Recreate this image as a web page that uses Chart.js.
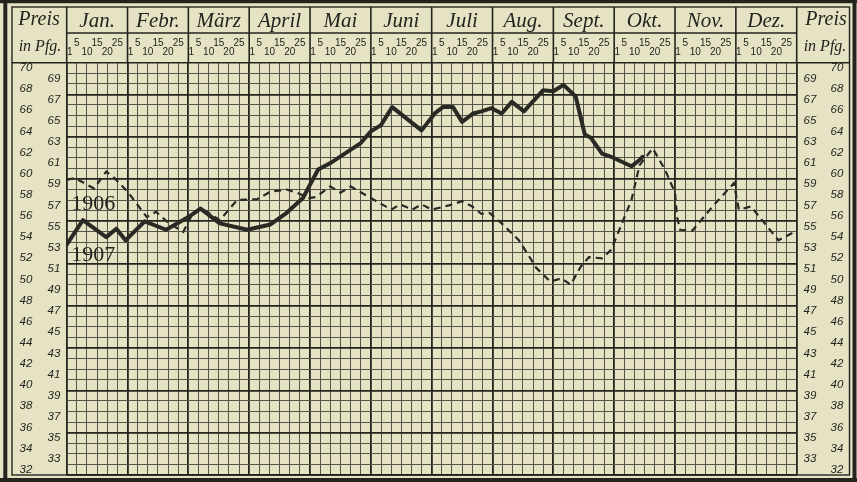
<!DOCTYPE html>
<html>
<head>
<meta charset="utf-8">
<script src="https://cdn.jsdelivr.net/npm/chart.js@4.4.1/dist/chart.umd.min.js"></script>
<style>
  html, body { margin: 0; padding: 0; background: #e6e3c5; }
  #wrap { width: 857px; height: 482px; }
</style>
</head>
<body>
<div id="wrap"><canvas id="chart" width="857" height="482"></canvas></div>
<script>
const months = ["Jan.", "Febr.", "März", "April", "Mai", "Juni", "Juli", "Aug.", "Sept.", "Okt.", "Nov.", "Dez."];
const dayMarks = ["1", "5", "10", "15", "20", "25"];
const evenPrices = [70, 68, 66, 64, 62, 60, 58, 56, 54, 52, 50, 48, 46, 44, 42, 40, 38, 36, 34, 32];
const oddPrices = [69, 67, 65, 63, 61, 59, 57, 55, 53, 51, 49, 47, 45, 43, 41, 39, 37, 35, 33];

// x = position in the 72 day-columns (6 per month), y = price in Pfennig
const pos1906 = [0, 0.8, 2.7, 3.9, 4.7, 6, 7.9, 8.8, 10.1, 11.5, 12.3, 13.2, 15.1, 16.8, 18.8,
  20.1, 21.7, 22.7, 23.9, 24.6, 26, 27, 28, 30, 32, 32.9, 34.1, 35, 36, 37.7,
  39, 40, 40.9, 41.7, 42.9, 44.6, 45.6, 46.3, 47.7, 48.8, 49.7, 50.7, 51.5, 52.8, 53.7,
  55.7, 56.5, 57.8, 59, 60, 60.2, 60.5, 61.7, 63.7, 65.8, 66.3, 67.5, 70.2, 71.8];
const price1906 = [59.4, 59.6, 58.6, 60.2, 59.6, 58.3, 55.9, 56.4, 55.3, 54.5, 56.0, 56.8, 55.6, 57.5, 57.6,
  58.3, 58.5, 58.2, 57.7, 57.8, 58.8, 58.2, 58.8, 57.7, 56.6, 57.1, 56.6, 57.1, 56.6, 57.0,
  57.4, 56.9, 56.2, 56.3, 55.3, 53.7, 52.2, 51.1, 49.8, 50.1, 49.5, 51.2, 52.1, 52.0, 52.8,
  57.5, 60.8, 62.4, 60.4, 58.2, 55.9, 54.7, 54.6, 56.9, 59.1, 56.6, 56.9, 53.7, 54.5];

const pos1907 = [0, 1.6, 3.9, 4.9, 5.8, 7.7, 9.8, 12, 13.2, 15.1, 17.8, 20.1, 21.7, 23.3, 24.8,
  26, 29, 30, 31, 32.1, 35, 36.3, 37.1, 38.1, 39, 40.1, 40.9, 41.9, 42.9, 43.9,
  45.1, 47, 48, 49, 50.2, 51.1, 51.7, 52.8, 53.7, 55.7, 56.5, 56.8];
const price1907 = [53.3, 55.6, 54.0, 54.8, 53.7, 55.5, 54.7, 55.9, 56.7, 55.3, 54.7, 55.2, 56.3, 57.7, 60.4,
  61.0, 62.9, 64.0, 64.6, 66.3, 64.1, 65.7, 66.3, 66.3, 64.9, 65.7, 65.9, 66.2, 65.7, 66.8,
  65.9, 67.9, 67.8, 68.4, 67.3, 63.7, 63.4, 61.9, 61.6, 60.7, 61.3, 61.6];

const ink = "#24241e";
const thinInk = "#56554a";
const paper = "#e6e3c5";

function toPoints(xs, ys) {
  return xs.map((x, i) => ({ x: x, y: ys[i] }));
}

const paperPlugin = {
  id: "paper",
  beforeDraw(chart) {
    const ctx = chart.ctx;
    ctx.save();
    ctx.fillStyle = paper;
    ctx.fillRect(0, 0, chart.width, chart.height);
    ctx.restore();
  },
  beforeDatasetsDraw(chart) {
    const ctx = chart.ctx;
    const x = chart.scales.x;
    const y = chart.scales.y;
    ctx.save();
    ctx.fillStyle = ink;
    ctx.font = "22px 'Liberation Serif'";
    ctx.textBaseline = "middle";
    ctx.textAlign = "left";
    ctx.fillText("1906", x.getPixelForValue(0.45), y.getPixelForValue(57.1));
    ctx.fillText("1907", x.getPixelForValue(0.45), y.getPixelForValue(52.3));
    ctx.restore();
  },
  afterDraw(chart) {
    const ctx = chart.ctx;
    const x = chart.scales.x;
    const y = chart.scales.y;
    const area = chart.chartArea;
    const left = 12, right = 849.5, top = 7;
    ctx.save();
    ctx.strokeStyle = ink;
    ctx.fillStyle = ink;

    // header lines
    ctx.lineWidth = 1.6;
    ctx.beginPath();
    ctx.moveTo(left, area.top); ctx.lineTo(right, area.top);
    ctx.moveTo(area.left, 33); ctx.lineTo(area.right, 33);
    for (let m = 0; m <= 12; m++) {
      const px = x.getPixelForValue(m * 6);
      ctx.moveTo(px, top); ctx.lineTo(px, area.top);
    }
    ctx.stroke();

    // inner frame
    ctx.lineWidth = 1.4;
    ctx.strokeRect(left, top, right - left, area.bottom - top);
    // outer heavy frame
    ctx.lineWidth = 4;
    ctx.beginPath();
    ctx.moveTo(5.3, 0); ctx.lineTo(5.3, 482);
    ctx.moveTo(854.5, 0); ctx.lineTo(854.5, 482);
    ctx.moveTo(0, 1.3); ctx.lineTo(857, 1.3);
    ctx.moveTo(0, 480); ctx.lineTo(857, 480);
    ctx.stroke();

    // header texts
    ctx.textAlign = "center";
    ctx.textBaseline = "middle";
    ctx.font = "italic 21px 'Liberation Serif'";
    months.forEach((name, m) => {
      ctx.fillText(name, x.getPixelForValue(m * 6 + 3), 21);
    });
    ctx.font = "italic 20px 'Liberation Serif'";
    ctx.fillText("Preis", 39, 20);
    ctx.fillText("Preis", 826, 20);
    ctx.font = "italic 16px 'Liberation Serif'";
    ctx.fillText("in Pfg.", 40, 47);
    ctx.fillText("in Pfg.", 825, 47);

    ctx.font = "10px 'Liberation Sans'";
    for (let m = 0; m < 12; m++) {
      dayMarks.forEach((label, d) => {
        let px = x.getPixelForValue(m * 6 + d);
        if (d === 0) px += 3;
        ctx.fillText(label, px, d % 2 === 1 ? 43 : 52);
      });
    }

    // price columns on both sides
    ctx.font = "italic 11.5px 'Liberation Sans'";
    evenPrices.forEach((v) => {
      const py = y.getPixelForValue(v);
      ctx.fillText(String(v), 26, py);
      ctx.fillText(String(v), 837, py);
    });
    oddPrices.forEach((v) => {
      const py = y.getPixelForValue(v);
      ctx.fillText(String(v), 54, py);
      ctx.fillText(String(v), 810, py);
    });
    ctx.restore();
  }
};

new Chart(document.getElementById("chart"), {
  type: "line",
  data: {
    datasets: [
      {
        label: "1907",
        data: toPoints(pos1907, price1907),
        borderColor: "#2a2a25",
        borderWidth: 4,
        pointRadius: 0,
        tension: 0,
        borderJoinStyle: "round",
        borderCapStyle: "round",
      },
      {
        label: "1906",
        data: toPoints(pos1906, price1906),
        borderColor: "#2a2a25",
        borderWidth: 2.2,
        borderDash: [7, 5],
        pointRadius: 0,
        tension: 0,
      },
    ],
  },
  options: {
    responsive: false,
    animation: false,
    devicePixelRatio: 1,
    layout: {
      padding: { left: 66.7, right: 60.3, top: 62.7, bottom: 7 },
    },
    plugins: {
      legend: { display: false },
      tooltip: { enabled: false },
    },
    scales: {
      x: {
        type: "linear",
        min: 0,
        max: 72,
        afterBuildTicks: (scale) => {
          scale.ticks = Array.from({ length: 73 }, (_, i) => ({ value: i }));
        },
        ticks: { display: false },
        border: { display: false },
        grid: {
          drawTicks: false,
          color: (c) => (c.tick && c.tick.value % 6 === 0 ? ink : thinInk),
          lineWidth: (c) => (c.tick && c.tick.value % 6 === 0 ? 1.8 : 1),
        },
      },
      y: {
        type: "linear",
        min: 31.5,
        max: 70.5,
        afterBuildTicks: (scale) => {
          scale.ticks = Array.from({ length: 40 }, (_, i) => ({ value: 31.5 + i }));
        },
        ticks: { display: false },
        border: { display: false },
        grid: {
          drawTicks: false,
          color: (c) => (c.tick && (c.tick.value - 31.5) % 4 === 0 ? ink : thinInk),
          lineWidth: (c) => (c.tick && (c.tick.value - 31.5) % 4 === 0 ? 1.8 : 1),
        },
      },
    },
  },
  plugins: [paperPlugin],
});
</script>
</body>
</html>
